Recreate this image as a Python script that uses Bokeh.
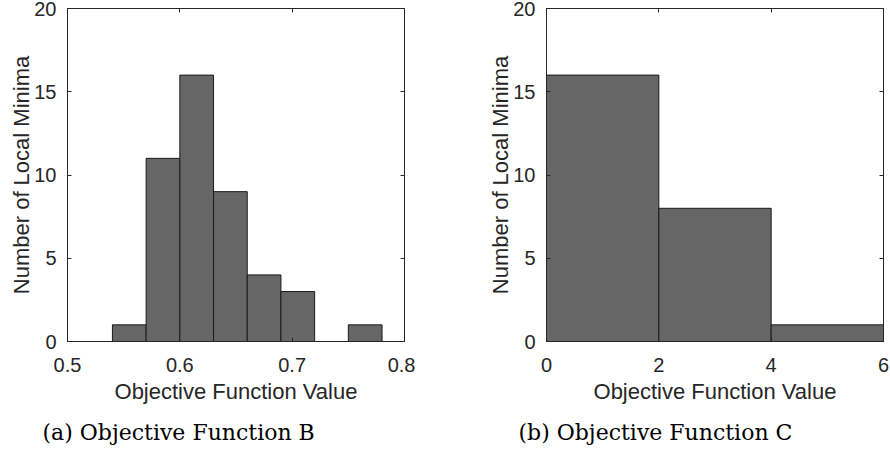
from bokeh.plotting import figure
from bokeh.models import Range1d, FixedTicker, LinearAxis, Title, Row
from bokeh.embed import file_html
from bokeh.resources import INLINE

# Data: histogram bins (edges) and counts
b_edges = [0.54, 0.57, 0.60, 0.63, 0.66, 0.69, 0.72, 0.75, 0.78]
b_counts = [1, 11, 16, 9, 4, 3, 0, 1]
c_edges = [0, 2, 4, 6]
c_counts = [16, 8, 1]

b_xticks = [0.5, 0.6, 0.7, 0.8]
c_xticks = [0, 2, 4, 6]
y_ticks = [0, 5, 10, 15, 20]

x_label = "Objective Function Value"
y_label = "Number of Local Minima"
captions = ["(a) Objective Function B", "(b) Objective Function C"]

SANS = "Liberation Sans"
SERIF = "DejaVu Serif"
TXT = "#262626"


def box_axis(ticks):
    return LinearAxis(ticker=FixedTicker(ticks=ticks), major_tick_in=4, major_tick_out=0,
                      minor_tick_line_color=None, axis_line_color=None,
                      major_tick_line_color=TXT, major_label_text_font_size="1px",
                      major_label_text_color=None, major_label_text_alpha=0,
                      major_label_standoff=0)


def make(edges, counts, xr, xticks, caption, width, left_border, right_border, cap_offset):
    p = figure(width=width, height=456, output_backend="svg", toolbar_location=None,
               x_range=Range1d(*xr), y_range=Range1d(0, 20),
               min_border_left=left_border, min_border_right=right_border,
               min_border_top=8, min_border_bottom=114)
    p.xgrid.visible = False
    p.ygrid.visible = False
    p.outline_line_color = TXT
    p.outline_line_width = 1
    p.background_fill_color = "white"
    p.border_fill_color = "white"

    p.quad(left=edges[:-1], right=edges[1:], top=counts, bottom=[0] * len(counts),
           fill_color="#666666", line_color="#1a1a1a", line_width=1)

    for ax, ticks in ((p.xaxis[0], xticks), (p.yaxis[0], y_ticks)):
        ax.ticker = FixedTicker(ticks=ticks)
        ax.major_tick_in = 4
        ax.major_tick_out = 0
        ax.minor_tick_line_color = None
        ax.axis_line_color = TXT
        ax.major_tick_line_color = TXT
        ax.major_label_text_font = SANS
        ax.major_label_text_font_size = "20px"
        ax.major_label_text_color = TXT
        ax.axis_label_text_font = SANS
        ax.axis_label_text_font_size = "22px"
        ax.axis_label_text_font_style = "normal"
        ax.axis_label_text_color = TXT

    p.xaxis[0].axis_label = x_label
    p.yaxis[0].axis_label = y_label
    p.xaxis[0].major_label_standoff = 16
    p.xaxis[0].axis_label_standoff = 4
    p.yaxis[0].major_label_standoff = 11
    p.yaxis[0].axis_label_standoff = -3

    # box ticks on top and right
    p.add_layout(box_axis(xticks), "above")
    p.add_layout(box_axis(y_ticks), "right")

    t = Title(text=caption, align="left", offset=cap_offset, text_font=SERIF,
              text_font_size="22px", text_font_style="normal", text_color="black",
              standoff=23)
    p.add_layout(t, "below")
    return p


p1 = make(b_edges, b_counts, (0.5, 0.8), b_xticks, captions[0], 415, 67, 11, -25)
p2 = make(c_edges, c_counts, (0, 6), c_xticks, captions[1], 475, 131, 7, -28)

layout = Row(children=[p1, p2], spacing=0)
open("out.html", "w").write(file_html(layout, INLINE))
